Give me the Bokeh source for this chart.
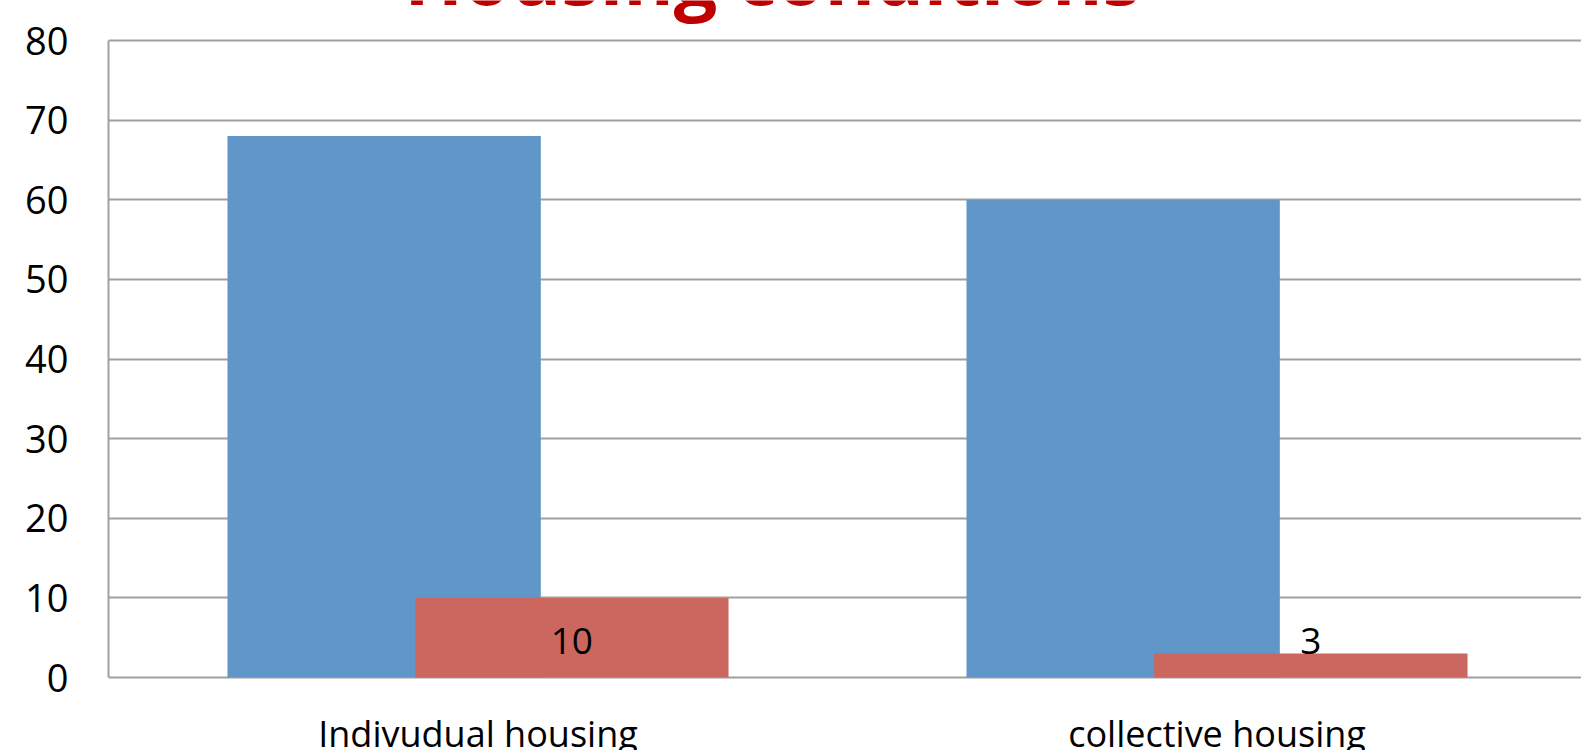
from bokeh.plotting import figure
from bokeh.models import Range1d, FixedTicker, Label, LabelSet, ColumnDataSource
from bokeh.core.properties import value
from bokeh.embed import file_html
from bokeh.resources import INLINE

# ---- data ----
categories = ["Indivudual housing", "collective housing"]
series_a = [68, 60]          # blue series
series_b = [10, 3]           # red series
bar_labels = ["10", "3"]
y_ticks = [0, 10, 20, 30, 40, 50, 60, 70, 80]
title_text = "Housing conditions"

FONT = "Open Sans"
BLUE = "#6196C9"
RED = "#CC6760"
GRID = "#A0A0A0"

pos = [i + 0.5 for i in range(len(categories))]
off = 0.127
bw = 0.424

p = figure(width=1581, height=750, output_backend="svg", toolbar_location=None,
           x_range=Range1d(0, 1.9932), y_range=Range1d(-9.168, 85.024),
           min_border_left=108, min_border_top=0, min_border_bottom=0,
           min_border_right=0)
p.outline_line_color = None
p.background_fill_color = "white"
p.border_fill_color = "white"

src = ColumnDataSource(dict(
    xa=[x - off for x in pos], xb=[x + off for x in pos],
    a=series_a, b=series_b, lbl=bar_labels,
    ly=[4.55] * len(pos), xl=pos, cat=categories, cy=[-8.79] * len(pos)))

p.vbar(x="xa", top="a", width=bw, bottom=0, source=src, fill_color=BLUE, line_color=None)
p.vbar(x="xb", top="b", width=bw, bottom=0, source=src, fill_color=RED, line_color=None)

p.text(x="xb", y="ly", text="lbl", source=src, text_align="center", text_baseline="middle",
       text_font=value(FONT), text_font_size="37px", text_color="black")

# axes
p.xaxis.visible = False
p.xgrid.visible = False
p.yaxis.ticker = FixedTicker(ticks=y_ticks)
p.yaxis.bounds = (y_ticks[0], y_ticks[-1])
p.ygrid.ticker = FixedTicker(ticks=y_ticks)
p.ygrid.grid_line_color = GRID
p.ygrid.grid_line_width = 2
p.yaxis.axis_line_color = GRID
p.yaxis.axis_line_width = 2
p.yaxis.major_tick_out = 0
p.yaxis.major_tick_in = 0
p.yaxis.minor_tick_out = 0
p.yaxis.minor_tick_in = 0
p.yaxis.major_label_standoff = 40
p.yaxis.major_label_text_font = FONT
p.yaxis.major_label_text_font_size = "38px"
p.yaxis.major_label_text_color = "black"

# category labels below the axis
cats = LabelSet(x="xl", y="cy", text="cat", source=src, text_align="center",
                text_baseline="alphabetic", text_font=value(FONT),
                text_font_size="36px", text_color="black")
p.add_layout(cats)

title = Label(x=0.8985, y=88.16, text=title_text, text_align="center",
              text_baseline="alphabetic", text_font=FONT,
              text_font_size="77px", text_font_style="bold", text_color="#C00000")
p.add_layout(title)

open("out.html", "w").write(file_html(p, INLINE))
